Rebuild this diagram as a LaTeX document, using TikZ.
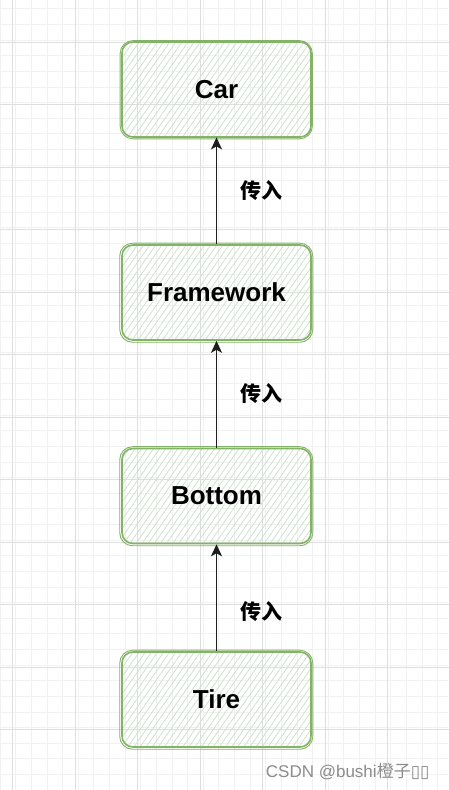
\documentclass[tikz,border=0pt]{standalone}
\usepackage{fontspec}
\usepackage{tikz}
\usetikzlibrary{arrows.meta, patterns.meta, calc}
\setmainfont{Liberation Sans}
\newfontfamily\cjk{Noto Sans CJK SC}
\newfontfamily\dejavu{DejaVu Sans}
\definecolor{gridmajor}{HTML}{DEDEDE}
\definecolor{gridminor}{HTML}{F1F1F1}
\definecolor{boxline}{HTML}{82B366}
\definecolor{boxhatch}{HTML}{CFE3CD}
\definecolor{arrowgray}{HTML}{1E1E1E}
\definecolor{markgray}{HTML}{8C8C8C}

\tikzset{
	blockbox/.style={draw=boxline, line width=1.6pt, rounded corners=11pt,
		minimum width=189pt, minimum height=95pt, inner sep=0pt,
		pattern={Lines[angle=55,distance=5pt,line width=0.8pt]}, pattern color=boxhatch,
		font=\fontsize{26}{30}\selectfont\bfseries},
	sketchline/.style={draw=boxline, line width=0.9pt, rounded corners=13pt},
	passlabel/.style={font=\fontsize{21}{25}\selectfont\cjk\bfseries},
	passarrow/.style={draw=arrowgray, line width=1.4pt, -{Stealth[length=12pt,width=11pt,inset=3pt]}}
}

\begin{document}
\begin{tikzpicture}[x=1pt, y=1pt]
	\useasboundingbox (0,0) rectangle (448,790);
	\fill[white] (0,0) rectangle (448,790);

	% grid
	\draw[gridminor, line width=0.6pt] (-3.125,-1.999) grid[step=15.625] (448,790);
	\begin{scope}[shift={(12.5,60.5)}]
		\draw[gridmajor, line width=0.8pt] (-62.5,-62.5) grid[step=62.5] (440,740);
	\end{scope}

	\coordinate (C) at (216.5,700.5);
	\coordinate (F) at (216.5,497.5);
	\coordinate (B) at (216.5,294);
	\coordinate (T) at (216.5,90.5);

	\node[blockbox] (car) at (C) {Car};
	\node[blockbox] (frame) at (F) {Framework};
	\node[blockbox] (bottom) at (B) {Bottom};
	\node[blockbox] (tire) at (T) {Tire};

	\foreach \n in {car,frame,bottom,tire}
		\draw[sketchline] ([xshift=-1.5pt,yshift=1pt]\n.north west) rectangle ([xshift=1pt,yshift=-1.5pt]\n.south east);

	\draw[passarrow] (frame) -- (car);
	\draw[passarrow] (bottom) -- (frame);
	\draw[passarrow] (tire) -- (bottom);

	\node[passlabel] (l1) at (261,599) {传入};
	\node[passlabel] (l2) at (261,396) {传入};
	\node[passlabel] (l3) at (261,178) {传入};

	\node[anchor=east, text=markgray, font=\fontsize{17}{20}\selectfont] (mark) at (433,18)
		{CSDN @bushi{\cjk 橙子}{\dejavu ▯▯}};
\end{tikzpicture}
\end{document}
